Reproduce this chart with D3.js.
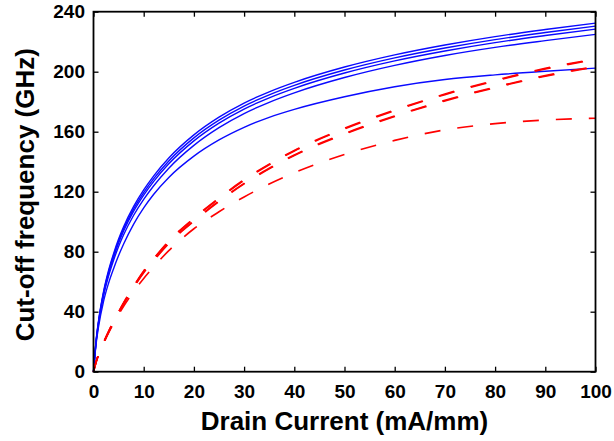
<!DOCTYPE html>
<html>
<head>
<meta charset="utf-8">
<script src="https://cdn.jsdelivr.net/npm/d3@7"></script>
<style>
  html, body { margin: 0; padding: 0; background: #fff; }
  svg { display: block; }
  .tick text { font-family: "Liberation Sans", Arial, sans-serif; font-weight: bold; font-size: 19px; fill: #000; }
  .title { font-family: "Liberation Sans", Arial, sans-serif; font-weight: bold; font-size: 26px; fill: #000; }
</style>
</head>
<body>
<svg id="chart" width="614" height="441"></svg>
<script>
// Drain current samples (mA/mm)
const current = [0, 0.5, 1, 2, 3, 4, 5, 6, 8, 10, 12, 15, 20, 25, 30, 35, 40, 50, 60, 70, 80, 90, 100];

// Cut-off frequency (GHz), solid blue family
const blue1 = [0, 20.1, 33.8, 53.4, 67.5, 78.7, 88.4, 96.6, 110.2, 121.2, 130.6, 142.5, 157.9, 169.7, 179.1, 186.6, 192.9, 203.1, 211.2, 217.8, 223.4, 228.1, 232.4];
const blue2 = [0, 19.8, 33.3, 52.6, 66.5, 77.5, 87.1, 95.2, 108.6, 119.4, 128.7, 140.5, 155.9, 167.7, 177.1, 184.6, 190.9, 201.1, 209.2, 215.8, 221.4, 226.1, 230.4];
const blue3 = [0, 19.5, 32.8, 51.8, 65.5, 76.3, 85.8, 93.8, 107, 117.7, 126.9, 138.6, 153.9, 165.7, 175.1, 182.6, 188.9, 199.1, 207.2, 213.8, 219.4, 224.1, 228.4];
const blue4 = [0, 19.1, 32, 50.4, 63.7, 74.3, 83.5, 91.3, 104.3, 114.9, 124, 135.7, 150.9, 162.7, 172.1, 179.6, 185.9, 196.1, 204.2, 210.8, 216.2, 220.7, 224.9];
const blue5 = [0, 18.1, 29.8, 46.9, 59, 68.7, 77.4, 85.1, 98.4, 109.2, 118.3, 129.5, 143.7, 154.5, 162.9, 169.6, 174.9, 183.3, 190, 194.8, 197.9, 200.3, 202.4];

// Cut-off frequency (GHz), dashed red family
const red1 = [0, 6.6, 11.6, 19.65, 26.95, 33.7, 40, 46.05, 57.1, 67.2, 75.5, 87.15, 102.35, 115.8, 128, 138.35, 147.5, 162.25, 174.45, 185.1, 194.25, 202.2, 208.5];
const red2 = [0, 6.2, 11.2, 19.25, 26.55, 33.3, 39.6, 45.65, 56.7, 66.8, 75.1, 86.75, 101.95, 115.4, 127.6, 137.95, 147.1, 161.85, 174.05, 184.7, 193.85, 201.8, 208.1];
const red3 = [0, 6.4, 11.4, 19.35, 26.65, 33.3, 39.6, 45.55, 56.5, 66.4, 74.5, 85.85, 100.65, 113.8, 125.6, 135.65, 144.5, 158.75, 170.55, 180.9, 189.75, 197.4, 203.5];
const red4 = [0, 6, 11, 18.95, 26.25, 32.9, 39.2, 45.15, 56.1, 66, 74.1, 85.45, 100.25, 113.4, 125.2, 135.25, 144.1, 158.35, 170.15, 180.5, 189.35, 197, 203.1];
const red5 = [0, 6.4, 11.2, 18.8, 25.8, 32.2, 38.1, 43.6, 53.4, 62.2, 70, 80.7, 95.3, 106.6, 116.5, 125.1, 132.6, 144.8, 154.2, 161.2, 165.4, 167.8, 169];

// Axis ticks and titles
const xTicks = [0, 10, 20, 30, 40, 50, 60, 70, 80, 90, 100];
const yTicks = [0, 40, 80, 120, 160, 200, 240];
const xTitle = "Drain Current (mA/mm)";
const yTitle = "Cut-off frequency (GHz)";

const svg = d3.select("#chart");
const plot = { left: 93.5, right: 595.5, top: 11.7, bottom: 371.7 };

const x = d3.scaleLinear().domain([0, 100]).range([plot.left, plot.right]);
const y = d3.scaleLinear().domain([0, 240]).range([plot.bottom, plot.top]);

svg.append("rect").attr("width", 614).attr("height", 441).attr("fill", "#fff");

const line = d3.line()
  .x(d => x(d[0]))
  .y(d => y(d[1]))
  .curve(d3.curveMonotoneX);

const pairs = vals => current.map((c, i) => [c, vals[i]]);

const lines = svg.append("g");

[blue1, blue2, blue3, blue4, blue5].forEach(vals => {
  lines.append("path")
    .attr("d", line(pairs(vals)))
    .attr("fill", "none")
    .attr("stroke", "#0a0aff")
    .attr("stroke-width", 1.4);
});

[red1, red2, red3, red4, red5].forEach(vals => {
  lines.append("path")
    .attr("d", line(pairs(vals)))
    .attr("fill", "none")
    .attr("stroke", "#ff0000")
    .attr("stroke-width", 1.6)
    .attr("stroke-dasharray", "16,17");
});

// Box frame with inward ticks on all four sides
const axes = svg.append("g");

axes.append("g")
  .attr("transform", `translate(0,${plot.bottom})`)
  .call(d3.axisBottom(x).tickValues(xTicks).tickSizeInner(-5).tickSizeOuter(0).tickPadding(13))
  .call(g => g.select(".domain").remove());

axes.append("g")
  .attr("transform", `translate(${plot.left},0)`)
  .call(d3.axisLeft(y).tickValues(yTicks).tickSizeInner(-5).tickSizeOuter(0).tickPadding(8.5))
  .call(g => g.select(".domain").remove());

axes.append("g")
  .attr("transform", `translate(0,${plot.top})`)
  .call(d3.axisTop(x).tickValues(xTicks).tickSizeInner(-5).tickSizeOuter(0).tickFormat(""))
  .call(g => g.select(".domain").remove());

axes.append("g")
  .attr("transform", `translate(${plot.right},0)`)
  .call(d3.axisRight(y).tickValues(yTicks).tickSizeInner(-5).tickSizeOuter(0).tickFormat(""))
  .call(g => g.select(".domain").remove());

axes.selectAll(".tick line").attr("stroke", "#000").attr("stroke-width", 1.3);

axes.append("rect")
  .attr("x", plot.left)
  .attr("y", plot.top)
  .attr("width", plot.right - plot.left)
  .attr("height", plot.bottom - plot.top)
  .attr("fill", "none")
  .attr("stroke", "#000")
  .attr("stroke-width", 1.8);

svg.append("text")
  .attr("class", "title")
  .attr("x", (plot.left + plot.right) / 2)
  .attr("y", 430)
  .attr("text-anchor", "middle")
  .text(xTitle);

svg.append("text")
  .attr("class", "title")
  .attr("transform", `translate(34,${(plot.top + plot.bottom) / 2 + 3}) rotate(-90)`)
  .attr("text-anchor", "middle")
  .text(yTitle);
</script>
</body>
</html>
